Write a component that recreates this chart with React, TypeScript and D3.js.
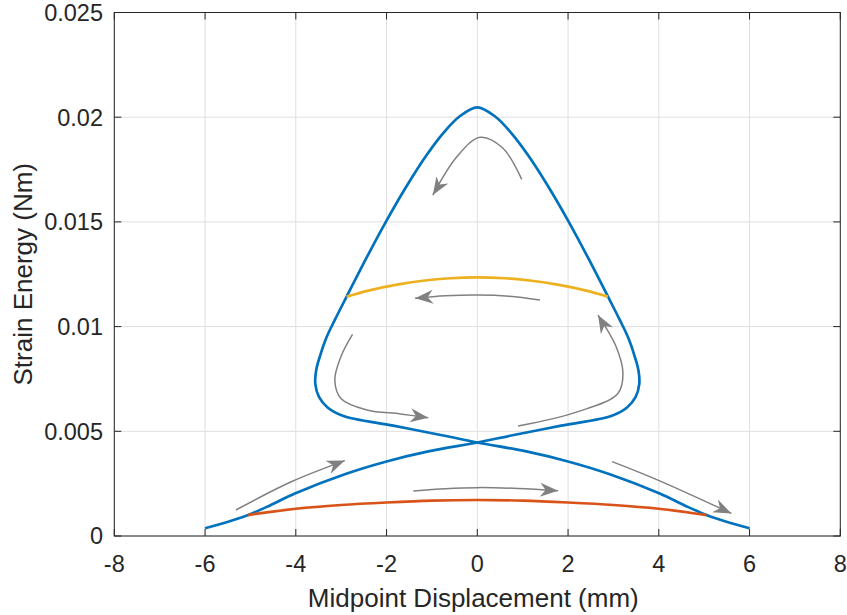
import React from 'react';
import * as d3 from 'd3';

const W = 847;
const H = 615;

const xTicks = [-8, -6, -4, -2, 0, 2, 4, 6, 8];
const xTickLabels = ['-8', '-6', '-4', '-2', '0', '2', '4', '6', '8'];
const yTicks = [0, 0.005, 0.01, 0.015, 0.02, 0.025];
const yTickLabels = ['0', '0.005', '0.01', '0.015', '0.02', '0.025'];

// Blue equilibrium path (single loop curve)
const blueX = [
  -6.0, -5.49, -5.05, -4.57, -4.02, -2.92, -2.0, -1.08, 0,
  0.75, 1.85, 2.95, 3.3, 3.49, 3.57, 3.55, 3.46, 3.32, 3.14, 2.88,
  2.44, 2.0, 1.56, 1.12, 0.75, 0.4, 0,
  -0.4, -0.75, -1.12, -1.56, -2.0, -2.44, -2.88,
  -3.14, -3.32, -3.46, -3.55, -3.57, -3.49, -3.3, -2.95, -1.85, -0.75,
  0, 1.08, 2.0, 2.92, 4.02, 4.57, 5.05, 5.49, 6.0,
];
const blueY = [
  0.00037, 0.00068, 0.001, 0.00146, 0.00203, 0.00295, 0.00356, 0.00404, 0.004465,
  0.0048, 0.00527, 0.00573, 0.00614, 0.00664, 0.00726, 0.00793, 0.00864, 0.0095, 0.01032, 0.01143,
  0.01329, 0.01506, 0.0167, 0.01818, 0.01924, 0.02002, 0.02047,
  0.02002, 0.01924, 0.01818, 0.0167, 0.01506, 0.01329, 0.01143,
  0.01032, 0.0095, 0.00864, 0.00793, 0.00726, 0.00664, 0.00614, 0.00573, 0.00527, 0.0048,
  0.004465, 0.00404, 0.00356, 0.00295, 0.00203, 0.00146, 0.001, 0.00068, 0.00037,
];

const yellowX = [-2.88, -2.4, -1.8, -1.2, -0.6, 0, 0.6, 1.2, 1.8, 2.4, 2.88];
const yellowY = [0.01143, 0.01172, 0.01199, 0.01219, 0.01231, 0.01235, 0.01231, 0.01219, 0.01199, 0.01172, 0.01143];

const orangeX = [-5.05, -4.0, -3.0, -2.0, -1.0, 0, 1.0, 2.0, 3.0, 4.0, 5.05];
const orangeY = [0.001, 0.0013, 0.00148, 0.0016, 0.00169, 0.00172, 0.00169, 0.0016, 0.00148, 0.0013, 0.001];

// Gray direction arrows (last point = arrow tip)
const arrowTop: [number, number][] = [[0.98, 0.01703], [0.55, 0.01855], [0.06, 0.01904], [-0.45, 0.01811], [-0.98, 0.01628]];
const arrowUpper: [number, number][] = [[1.38, 0.01127], [0.7, 0.01145], [0, 0.01151], [-0.7, 0.01147], [-1.37, 0.01135]];
const arrowLeftLoop: [number, number][] = [[-2.75, 0.00963], [-3.0, 0.0086], [-3.14, 0.00745], [-3.0, 0.00655], [-2.44, 0.00602], [-1.7, 0.00583], [-1.08, 0.00565]];
const arrowRightLoop: [number, number][] = [[0.9, 0.00525], [2.22, 0.00594], [3.1, 0.00681], [3.21, 0.00777], [3.06, 0.00904], [2.66, 0.01055]];
const arrowLowerLeft: [number, number][] = [[-5.32, 0.00124], [-4.1, 0.00259], [-2.92, 0.0036]];
const arrowLowerMid: [number, number][] = [[-1.41, 0.00215], [-0.7, 0.00226], [0, 0.00231], [0.9, 0.00227], [1.78, 0.00216]];
const arrowLowerRight: [number, number][] = [[2.97, 0.00355], [3.98, 0.00267], [5.6, 0.00108]];
const arrows = [arrowTop, arrowUpper, arrowLeftLoop, arrowRightLoop, arrowLowerLeft, arrowLowerMid, arrowLowerRight];

const AX = '#262626';
const GRID = '#dfdfdf';
const BLUE = '#0072BD';
const ORANGE = '#D95319';
const YELLOW = '#EDB120';
const GRAY = '#808080';
const FONT = 'Liberation Sans, Arial, Helvetica, sans-serif';

export default function App() {
  const x = d3.scaleLinear().domain([-8, 8]).range([114.3, 840.3]);
  const y = d3.scaleLinear().domain([0, 0.025]).range([536, 12.5]);
  const [x0, x1] = x.range();
  const [y0, y1] = y.range();

  const line = d3
    .line<[number, number]>()
    .x((d) => x(d[0]))
    .y((d) => y(d[1]))
    .curve(d3.curveCatmullRom.alpha(0.5));

  const zip = (a: number[], b: number[]) => a.map((v, i) => [v, b[i]] as [number, number]);

  const head = (pts: [number, number][]) => {
    const t = pts[pts.length - 1];
    const p = pts[pts.length - 2];
    const tx = x(t[0]), ty = y(t[1]);
    const px = x(p[0]), py = y(p[1]);
    let dx = tx - px, dy = ty - py;
    const len = Math.hypot(dx, dy);
    dx /= len; dy /= len;
    const nx = -dy, ny = dx;
    const L = 18, N = 12.5, w = 7;
    return `M${tx},${ty}L${tx - L * dx + w * nx},${ty - L * dy + w * ny}L${tx - N * dx},${ty - N * dy}L${tx - L * dx - w * nx},${ty - L * dy - w * ny}Z`;
  };

  return (
    <svg width={W} height={H} style={{ position: 'absolute', left: 0, top: 0, background: '#fff' }}>
      <rect x={0} y={0} width={W} height={H} fill="#fff" />
      {xTicks.map((t) => (
        <line key={'gx' + t} x1={x(t)} x2={x(t)} y1={y0} y2={y1} stroke={GRID} strokeWidth={1} />
      ))}
      {yTicks.map((t) => (
        <line key={'gy' + t} x1={x0} x2={x1} y1={y(t)} y2={y(t)} stroke={GRID} strokeWidth={1} />
      ))}
      {xTicks.map((t) => (
        <g key={'tx' + t}>
          <line x1={x(t)} x2={x(t)} y1={y0} y2={y0 - 7} stroke={AX} strokeWidth={1} />
          <line x1={x(t)} x2={x(t)} y1={y1} y2={y1 + 7} stroke={AX} strokeWidth={1} />
        </g>
      ))}
      {yTicks.map((t) => (
        <g key={'ty' + t}>
          <line x1={x0} x2={x0 + 7} y1={y(t)} y2={y(t)} stroke={AX} strokeWidth={1} />
          <line x1={x1} x2={x1 - 7} y1={y(t)} y2={y(t)} stroke={AX} strokeWidth={1} />
        </g>
      ))}
      <rect x={x0} y={y1} width={x1 - x0} height={y0 - y1} fill="none" stroke={AX} strokeWidth={1} />

      <path d={line(zip(blueX, blueY)) || ''} fill="none" stroke={BLUE} strokeWidth={2.7} strokeLinejoin="round" />
      <path d={line(zip(yellowX, yellowY)) || ''} fill="none" stroke={YELLOW} strokeWidth={2.7} />
      <path d={line(zip(orangeX, orangeY)) || ''} fill="none" stroke={ORANGE} strokeWidth={2.7} />

      {arrows.map((a, i) => (
        <g key={'a' + i}>
          <path d={line(a) || ''} fill="none" stroke={GRAY} strokeWidth={1.5} />
          <path d={head(a)} fill={GRAY} stroke="none" />
        </g>
      ))}

      {xTicks.map((t, i) => (
        <text key={'lx' + t} x={x(t)} y={572} textAnchor="middle" fontFamily={FONT} fontSize={23.5} fill={AX}>
          {xTickLabels[i]}
        </text>
      ))}
      {yTicks.map((t, i) => (
        <text key={'ly' + t} x={103} y={y(t) + 8.4} textAnchor="end" fontFamily={FONT} fontSize={23.5} fill={AX}>
          {yTickLabels[i]}
        </text>
      ))}
      <text x={(x0 + x1) / 2 - 4} y={607} textAnchor="middle" fontFamily={FONT} fontSize={26} fill={AX}>
        Midpoint Displacement (mm)
      </text>
      <text transform={`translate(32,${(y0 + y1) / 2}) rotate(-90)`} textAnchor="middle" fontFamily={FONT} fontSize={26} fill={AX}>
        Strain Energy (Nm)
      </text>
    </svg>
  );
}
